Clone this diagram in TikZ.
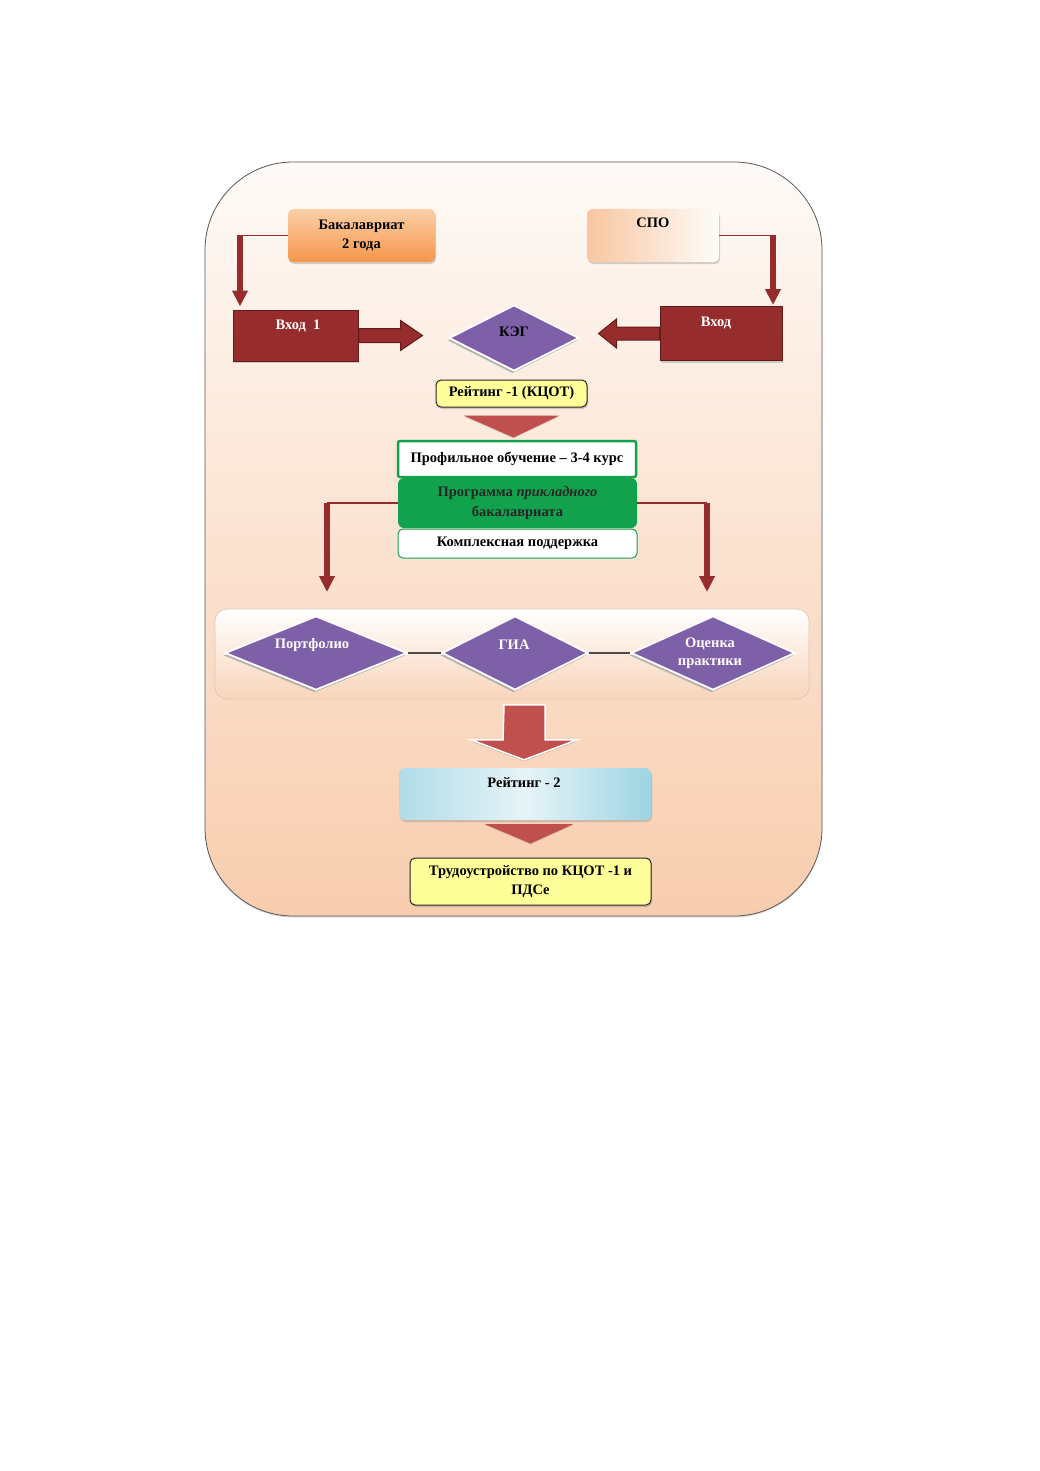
\documentclass[tikz,border=0pt]{standalone}
\usepackage{fontspec}
\setmainfont{Liberation Serif}
\usetikzlibrary{shapes.geometric,shadows,calc,arrows.meta}
\definecolor{darkred}{HTML}{962C2C}
\definecolor{edgered}{HTML}{621B1B}
\definecolor{trired}{HTML}{C0504D}
\definecolor{purp}{HTML}{7E60A8}
\definecolor{yell}{HTML}{FFFF99}
\definecolor{grn}{HTML}{12A24E}
\definecolor{peach}{HTML}{F8CDAE}
\definecolor{peachmid}{HTML}{FBE3D2}
\definecolor{peachlight}{HTML}{FEFAF7}
\definecolor{orA}{HTML}{F5964A}
\definecolor{orB}{HTML}{FCD0A8}
\definecolor{spoA}{HTML}{F9C6A0}
\definecolor{blA}{HTML}{9ED4E3}
\definecolor{blB}{HTML}{E6F4F8}
\begin{document}
\begin{tikzpicture}[x=1pt,y=-1pt,
  every node/.style={font=\fontsize{14.5}{19.5}\selectfont\bfseries, align=center, inner sep=0pt},
  shadeA/.style={drop shadow={shadow xshift=1pt,shadow yshift=-2pt,opacity=0.35}},
  redbox/.style={fill=darkred, draw=edgered, line width=1pt, shadeA},
  blockred/.style={fill=darkred, draw=edgered, line width=1pt},
  dia/.style={diamond, fill=purp, draw=white, line width=1.8pt, inner sep=0pt,
     drop shadow={shadow xshift=-1.5pt, shadow yshift=-2.5pt, fill=gray!70, opacity=0.8}},
  yellbox/.style={fill=yell, draw=black!85, line width=1pt, rounded corners=5pt, shadeA},
  thinred/.style={draw=darkred, line width=1.3pt},
  shaftred/.style={draw=darkred, line width=6pt, -{Triangle[length=16pt,width=15pt]}},
  wtext/.style={text=white},
  linkline/.style={draw=black!70, line width=1.4pt}
]
\useasboundingbox (0,0) rectangle (1040,1471);
\fill[white] (0,0) rectangle (1040,1471);

% main frame
\draw[draw=black!65, line width=0.8pt, top color=peachlight, bottom color=peach, middle color=peachmid,
  rounded corners=88pt, drop shadow={shadow xshift=0pt,shadow yshift=-1.5pt,opacity=0.3}]
  (205,162) rectangle (822,916);

% top boxes
\node[top color=orB, bottom color=orA, rounded corners=5pt, minimum width=147pt, minimum height=53pt, shadeA]
  (bak) at (361.5,235.5) {Бакалавриат\\2 года};
\node[left color=spoA, right color=white!95!spoA, rounded corners=5pt, minimum width=132pt, minimum height=53pt, shadeA]
  (spo) at (653,235.5) {};
\node (spot) at (653,223) {СПО};

% entry boxes
\node[redbox, minimum width=125pt, minimum height=51pt] (vhod1) at (295.5,335.5) {};
\node[wtext] (vhod1t) at (298,326) {Вход \ 1};
\node[redbox, minimum width=122pt, minimum height=54pt] (vhod2) at (721,333.5) {};
\node[wtext] (vhod2t) at (716,323) {Вход};

% KEG
\node[dia, minimum width=130pt, minimum height=66pt] (keg) at (514,338) {};
\node (kegt) at (514,332) {КЭГ};

% side feeds
\coordinate (cL) at (240,0);
\coordinate (cR) at (773,0);
\draw[thinred] (bak.west) -- (bak.west -| cL);
\draw[shaftred] (bak.west -| cL) -- ($(vhod1.north -| cL)+(0,-3)$);
\draw[thinred] (spo.east) -- (spo.east -| cR);
\draw[shaftred] (spo.east -| cR) -- ($(vhod2.north -| cR)+(0,-1)$);

% block arrows to KEG
\filldraw[blockred] ($(vhod1.east)+(0,-7)$) -- ++(42,0) -- ++(0,-8) -- ++(22,15) -- ++(-22,15) -- ++(0,-8) -- ++(-42,0) -- cycle;
\filldraw[blockred] ($(vhod2.west)+(0,-6.5)$) -- ++(-43,0) -- ++(0,-8) -- ++(-18,14.5) -- ++(18,14.5) -- ++(0,-8) -- ++(43,0) -- cycle;

% rating 1
\node[yellbox, minimum width=151pt, minimum height=27pt] (r1) at (511.5,393.5) {Рейтинг -1 (КЦОТ)};
\fill[trired, drop shadow={shadow xshift=0pt,shadow yshift=-1pt,opacity=0.3}]
  ($(r1.south)+(-48,8)$) -- ($(r1.south)+(48,8)$) -- ($(r1.south)+(2,30)$) -- cycle;

% profile block
\node[fill=white, draw=grn, line width=2.5pt, rounded corners=2pt, minimum width=238pt, minimum height=36pt]
  (prof) at (517,459) {Профильное обучение – 3-4 курс};
\node[fill=grn, rounded corners=6pt, minimum width=239pt, minimum height=50pt, text=black!85]
  (prog) at (517.5,503) {Программа \textit{прикладного}\\бакалавриата};
\node[fill=white, draw=grn, line width=1pt, rounded corners=5pt, minimum width=239pt, minimum height=29pt]
  (kompl) at (517.5,543.5) {Комплексная поддержка};

% band
\draw[draw=peach!80!black!60, line width=0.8pt, top color=white, bottom color=peach!85, rounded corners=12pt]
  (215,609) rectangle (809,699);
\coordinate (band) at (512,609);

% split arrows
\coordinate (gL) at (327,0);
\coordinate (gR) at (707,0);
\draw[thinred] (prog.west) -- (prog.west -| gL);
\draw[shaftred] (prog.west -| gL) -- ($(band -| gL)+(0,-17)$);
\draw[thinred] (prog.east) -- (prog.east -| gR);
\draw[shaftred] (prog.east -| gR) -- ($(band -| gR)+(0,-17)$);

% diamonds
\node[dia, minimum width=182pt, minimum height=74pt] (port) at (316,653) {};
\node[dia, minimum width=146pt, minimum height=74pt] (gia) at (515,653) {};
\node[dia, minimum width=164pt, minimum height=74pt] (ocen) at (713,653) {};
\node[wtext] (portt) at (312,645) {Портфолио};
\node[wtext] (giat) at (514,645) {ГИА};
\node[wtext, font=\fontsize{14.5}{17.5}\selectfont\bfseries] (ocent) at (710,653) {Оценка\\практики};
\draw[linkline] (port.east) -- (gia.west);
\draw[linkline] (gia.east) -- (ocen.west);

% rating 2
\node[shading angle=100, left color=blA!75!blB, right color=blA, middle color=blB, rounded corners=6pt, minimum width=252pt, minimum height=52pt, shadeA]
  (r2) at (525,794) {};
\node (r2t) at (524,783) {Рейтинг - 2};

% big block arrow
\filldraw[fill=trired, draw=white, line width=1.5pt, drop shadow={shadow xshift=0pt,shadow yshift=-1.5pt,opacity=0.4}]
  ($(r2.north)+(-21,-63)$) -- ++(41,0) -- ++(0,35) -- ++(32,0) -- ($(r2.north)+(-1,-8)$) -- ++(-53,-20) -- ++(32,0) -- cycle;

% final
\node[yellbox, minimum width=241pt, minimum height=47pt] (trud) at (530.5,881.5) {Трудоустройство по КЦОТ -1 и\\ПДСе};
\fill[trired, drop shadow={shadow xshift=0pt,shadow yshift=-1pt,opacity=0.3}]
  ($(r2.south)+(-40,4)$) -- ($(r2.south)+(48,4)$) -- ($(trud.north)+(0,-14)$) -- cycle;

\end{tikzpicture}
\end{document}
